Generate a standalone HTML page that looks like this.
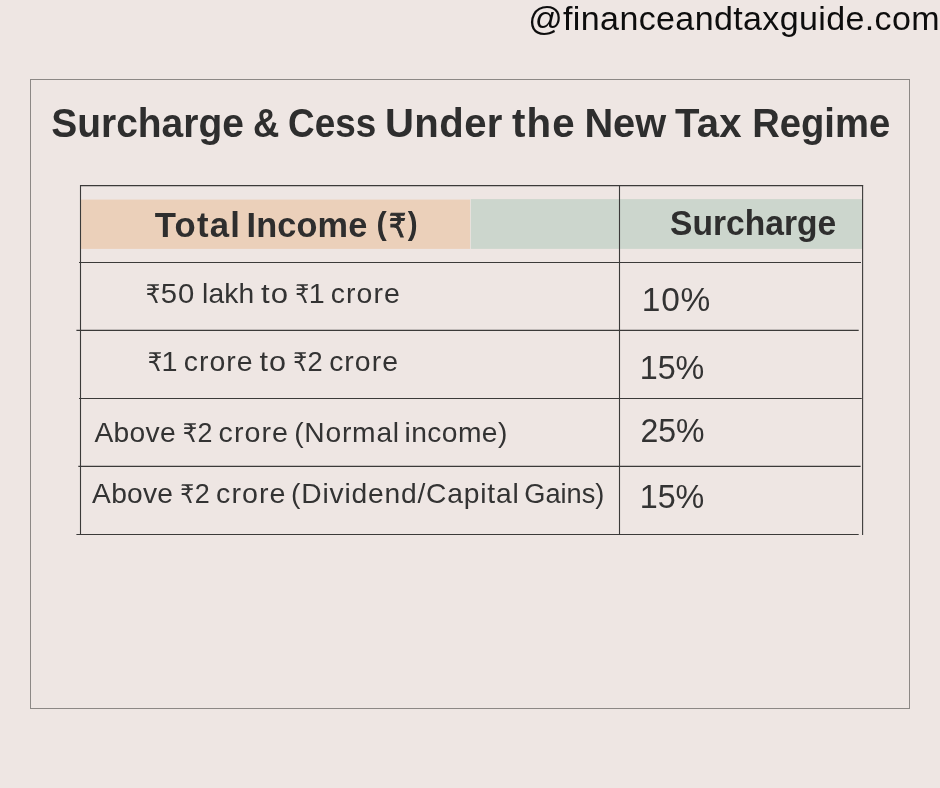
<!DOCTYPE html>
<html lang="en"><head><meta charset="utf-8"><title>Surcharge &amp; Cess Under the New Tax Regime</title>
<style>
html,body{margin:0;padding:0;}
body{width:940px;height:788px;background:#eee6e3;overflow:hidden;}
svg{display:block;position:absolute;left:0;top:0;will-change:transform;}
text{font-family:"Liberation Sans","DejaVu Sans",sans-serif;fill:#303030;white-space:pre;}
.wm{font-size:34px;fill:#0d0d0d;}
.title{font-size:40.1px;font-weight:bold;fill:#2e2e2e;}
.hd{font-size:34.3px;font-weight:bold;fill:#2e2e2e;}
.c{font-size:27.4px;fill:#333;}
.p{font-size:32.3px;fill:#333;}
.g line{stroke:#3b3a39;stroke-width:1.1;}
</style></head><body>
<svg width="940" height="788" viewBox="0 0 940 788">
<rect x="30.5" y="79.5" width="879" height="629" fill="none" stroke="#8c8885" stroke-width="1"/>
<rect x="81" y="199.6" width="389.1" height="49.3" fill="#ebd0ba"/>
<rect x="470.8" y="199.1" width="391.9" height="49.8" fill="#ccd6cd"/>
<g class="g">
<line x1="80" y1="185.6" x2="863.1" y2="185.6"/>
<line x1="79" y1="262.5" x2="861" y2="262.5"/>
<line x1="76.4" y1="330.4" x2="858.7" y2="330.4"/>
<line x1="79" y1="398.5" x2="861.8" y2="398.5"/>
<line x1="78.3" y1="466.4" x2="860.6" y2="466.4"/>
<line x1="76.4" y1="534.5" x2="858.7" y2="534.5"/>
<line x1="80.5" y1="185.1" x2="80.5" y2="535"/>
<line x1="619.5" y1="185.1" x2="619.5" y2="535"/>
<line x1="862.6" y1="185.1" x2="862.6" y2="534.9"/>
</g>
<g id="wm">
<text class="wm" transform="translate(528.15,30.0)" style="letter-spacing:0.38px">@financeandtaxguide.com</text>
</g>
<g id="title">
<text class="title" transform="translate(51.25,137.0) scale(0.971,1)">Surcharge</text>
<text class="title" transform="translate(253.00,137.0) scale(0.910,1)">&amp;</text>
<text class="title" transform="translate(288.00,137.0) scale(0.920,1)">Cess</text>
<text class="title" transform="translate(384.95,137.0)" style="letter-spacing:0.43px">Under</text>
<text class="title" transform="translate(512.00,137.0) scale(1.003,1)" style="letter-spacing:1.20px">the</text>
<text class="title" transform="translate(584.40,137.0) scale(0.992,1)">New</text>
<text class="title" transform="translate(674.90,137.0)" style="letter-spacing:0.28px">Tax</text>
<text class="title" transform="translate(752.20,137.0) scale(0.953,1)">Regime</text>
</g>
<g id="hd1">
<text class="hd" transform="translate(154.75,237.0) scale(1.012,1)" style="letter-spacing:1.20px">Total</text>
<text class="hd" transform="translate(246.45,237.0)" style="letter-spacing:0.15px">Income</text>
<text class="hd" transform="translate(376.50,234.0) scale(1.006,1)" style="font-size:30.5px">(</text>
<text class="hd" transform="translate(389.05,237.0) scale(0.824,1)" style="font-size:32.6px;font-weight:normal;stroke:#2e2e2e;stroke-width:0.9px">₹</text>
<text class="hd" transform="translate(407.80,234.0) scale(0.971,1)" style="font-size:30.5px">)</text>
</g>
<g id="hd2">
<text class="hd" transform="translate(670.10,235.4) scale(0.979,1)">Surcharge</text>
</g>
<g id="r1">
<text class="c" transform="translate(145.75,302.8) scale(0.883,1)" style="font-size:25.8px">₹</text>
<text class="c" transform="translate(160.75,302.8) scale(1.070,1)" style="letter-spacing:1.00px">50</text>
<text class="c" transform="translate(202.05,302.8) scale(1.030,1)" style="letter-spacing:0.13px">lakh</text>
<text class="c" transform="translate(260.90,302.8) scale(1.135,1)" style="letter-spacing:1.00px">to</text>
<text class="c" transform="translate(295.25,302.8) scale(0.850,1)" style="font-size:25.8px">₹</text>
<text class="c" transform="translate(308.75,302.8) scale(1.047,1)">1</text>
<text class="c" transform="translate(330.75,302.8) scale(1.039,1)" style="letter-spacing:1.00px">crore</text>
</g>
<g id="r2">
<text class="c" transform="translate(147.65,370.6) scale(0.883,1)" style="font-size:25.8px">₹</text>
<text class="c" transform="translate(161.45,370.6) scale(1.051,1)">1</text>
<text class="c" transform="translate(183.75,370.6) scale(1.038,1)" style="letter-spacing:1.00px">crore</text>
<text class="c" transform="translate(259.50,370.6) scale(1.115,1)" style="letter-spacing:1.00px">to</text>
<text class="c" transform="translate(293.35,370.6) scale(0.850,1)" style="font-size:25.8px">₹</text>
<text class="c" transform="translate(307.55,370.6) scale(0.994,1)">2</text>
<text class="c" transform="translate(329.15,370.6) scale(1.036,1)" style="letter-spacing:1.00px">crore</text>
</g>
<g id="r3">
<text class="c" transform="translate(94.50,441.7) scale(1.030,1)" style="letter-spacing:0.30px">Above</text>
<text class="c" transform="translate(182.85,441.7) scale(0.883,1)" style="font-size:25.8px">₹</text>
<text class="c" transform="translate(197.55,441.7) scale(0.982,1)">2</text>
<text class="c" transform="translate(218.55,441.7) scale(1.045,1)" style="letter-spacing:1.00px">crore</text>
<text class="c" transform="translate(294.15,441.7) scale(1.030,1)" style="letter-spacing:0.76px">(Normal</text>
<text class="c" transform="translate(404.55,441.7) scale(1.030,1)" style="letter-spacing:0.40px">income)</text>
</g>
<g id="r4">
<text class="c" transform="translate(92.10,502.8) scale(1.030,1)" style="letter-spacing:0.22px">Above</text>
<text class="c" transform="translate(180.35,502.8) scale(0.846,1)" style="font-size:25.8px">₹</text>
<text class="c" transform="translate(194.75,502.8) scale(0.986,1)">2</text>
<text class="c" transform="translate(216.05,502.8) scale(1.045,1)" style="letter-spacing:1.00px">crore</text>
<text class="c" transform="translate(291.05,502.8) scale(1.030,1)" style="letter-spacing:0.78px">(Dividend/Capital</text>
<text class="c" transform="translate(524.25,502.8) scale(0.993,1)">Gains)</text>
</g>
<g id="p1">
<text class="p" transform="translate(641.70,311.1) scale(1.036,1)" style="letter-spacing:0.80px">10%</text>
</g>
<g id="p2">
<text class="p" transform="translate(639.70,379.3)">15%</text>
</g>
<g id="p3">
<text class="p" transform="translate(640.40,441.9) scale(0.992,1)">25%</text>
</g>
<g id="p4">
<text class="p" transform="translate(639.70,508.4)">15%</text>
</g>
</svg>
</body></html>
